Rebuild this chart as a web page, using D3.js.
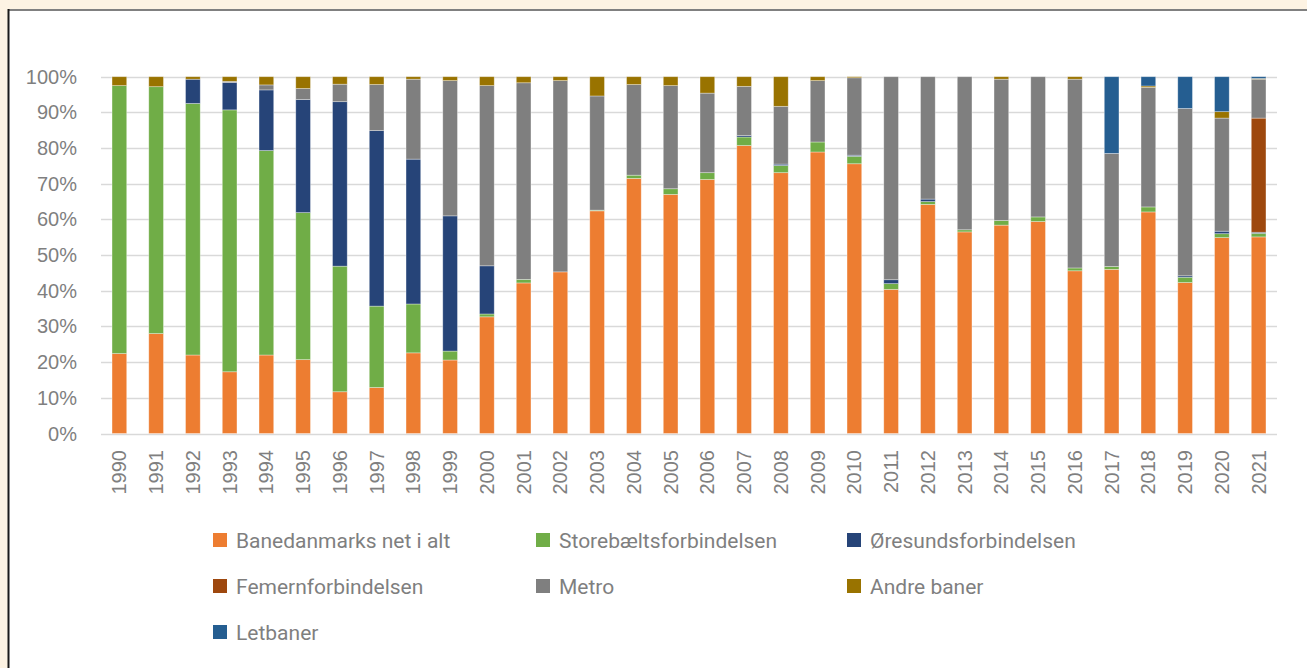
<!DOCTYPE html>
<html>
<head>
<meta charset="utf-8">
<script src="https://cdn.jsdelivr.net/npm/d3@7"></script>
<style>
  body { margin: 0; background: #fdf3e3; }
  .tick-label { font-family: "Liberation Sans", Arial, sans-serif; font-size: 20px; fill: #7f7f7f; }
  .legend-label { font-family: Roboto, "Liberation Sans", sans-serif; font-size: 21px; fill: #7f7f7f; }
</style>
</head>
<body>
<div id="chart"></div>
<script>

var years = [1990, 1991, 1992, 1993, 1994, 1995, 1996, 1997, 1998, 1999, 2000, 2001, 2002, 2003, 2004, 2005,
             2006, 2007, 2008, 2009, 2010, 2011, 2012, 2013, 2014, 2015, 2016, 2017, 2018, 2019, 2020, 2021];

var seriesNames = ["Banedanmarks net i alt", "Storebæltsforbindelsen", "Øresundsforbindelsen",
                   "Femernforbindelsen", "Metro", "Andre baner", "Letbaner"];

var seriesColors = ["#ed7d31", "#70ad47", "#264478", "#9e480e", "#7f7f7f", "#997300", "#255e91"];

// shares in percent, one value per year
var banedanmark = [22.4, 28.0, 22.0, 17.3, 22.0, 20.7, 11.7, 12.9, 22.6, 20.6, 32.7, 42.2, 45.3, 62.4, 71.5, 67.0,
                   71.2, 80.7, 73.1, 78.9, 75.6, 40.4, 64.2, 56.5, 58.4, 59.4, 45.6, 46.0, 62.1, 42.3, 54.9, 55.1];
var storebaelt  = [75.1, 69.2, 70.5, 73.4, 57.3, 41.2, 35.2, 22.8, 13.7, 2.5, 0.8, 1.0, 0, 0.2, 0.9, 1.6,
                   1.9, 2.4, 2.0, 2.8, 2.1, 1.6, 0.8, 0.6, 1.3, 1.3, 0.8, 0.8, 1.4, 1.5, 1.1, 1.0];
var oresund     = [0, 0, 6.8, 7.7, 17.0, 31.7, 46.1, 49.2, 40.6, 37.9, 13.5, 0, 0, 0, 0, 0,
                   0, 0.4, 0.4, 0, 0.3, 1.1, 0.7, 0, 0, 0, 0, 0, 0, 0.4, 0.7, 0.3];
var femern      = [0, 0, 0, 0, 0, 0, 0, 0, 0, 0, 0, 0, 0, 0, 0, 0,
                   0, 0, 0, 0, 0, 0, 0, 0, 0, 0, 0, 0, 0, 0, 0, 32.0];
var metro       = [0, 0, 0, 0.3, 1.4, 3.1, 4.9, 12.9, 22.4, 37.9, 50.5, 55.1, 53.6, 32.0, 25.4, 28.9,
                   22.3, 13.8, 16.2, 17.2, 21.7, 56.9, 34.3, 42.9, 39.6, 39.3, 52.9, 31.7, 33.5, 46.9, 31.7, 10.9];
var andre       = [2.5, 2.8, 0.7, 1.3, 2.3, 3.3, 2.1, 2.2, 0.7, 1.1, 2.5, 1.7, 1.1, 5.4, 2.2, 2.5,
                   4.6, 2.7, 8.3, 1.1, 0.3, 0, 0, 0, 0.7, 0, 0.7, 0, 0.4, 0, 1.8, 0.2];
var letbaner    = [0, 0, 0, 0, 0, 0, 0, 0, 0, 0, 0, 0, 0, 0, 0, 0,
                   0, 0, 0, 0, 0, 0, 0, 0, 0, 0, 0, 21.5, 2.6, 8.9, 9.8, 0.5];

var yTicks = [0, 10, 20, 30, 40, 50, 60, 70, 80, 90, 100];

var seriesValues = [banedanmark, storebaelt, oresund, femern, metro, andre, letbaner];

var W = 1307, H = 668;
var plot = { left: 101, right: 1277, top: 76.7, bottom: 433.5 };

var svg = d3.select("#chart")
    .append("svg")
    .attr("width", W)
    .attr("height", H);

// white panel with its border on the top and left
svg.append("rect")
    .attr("x", 8).attr("y", 10)
    .attr("width", W - 8).attr("height", H - 10)
    .attr("fill", "#ffffff");
svg.append("line")
    .attr("x1", 8).attr("x2", W).attr("y1", 10).attr("y2", 10)
    .attr("stroke", "#808080").attr("stroke-width", 2);
svg.append("line")
    .attr("x1", 8.5).attr("x2", 8.5).attr("y1", 9).attr("y2", H)
    .attr("stroke", "#1a1a1a").attr("stroke-width", 2);

var table = years.map(function (y, i) {
    var row = { year: y };
    seriesNames.forEach(function (name, s) { row[name] = seriesValues[s][i]; });
    return row;
});

var stacked = d3.stack().keys(seriesNames)(table);

var x = d3.scaleBand()
    .domain(years)
    .range([plot.left, plot.right])
    .paddingInner(0.6)
    .paddingOuter(0.3);

var y = d3.scaleLinear()
    .domain([0, 100])
    .range([plot.bottom, plot.top]);

// gridlines
svg.append("g")
    .selectAll("line")
    .data(yTicks).enter()
    .append("line")
    .attr("x1", plot.left).attr("x2", plot.right)
    .attr("y1", function (d) { return Math.round(y(d)) + 0.5; })
    .attr("y2", function (d) { return Math.round(y(d)) + 0.5; })
    .attr("stroke", "#d9d9d9")
    .attr("stroke-width", 1.3);

svg.append("g")
    .selectAll("text")
    .data(yTicks).enter()
    .append("text")
    .attr("class", "tick-label")
    .attr("x", 77)
    .attr("y", function (d) { return y(d); })
    .attr("dy", "0.35em")
    .style("text-anchor", "end")
    .text(function (d) { return d + "%"; });

// bars
svg.append("g")
    .selectAll("g")
    .data(stacked).enter()
    .append("g")
    .attr("fill", function (d, i) { return seriesColors[i]; })
    .selectAll("rect")
    .data(function (d) { return d.filter(function (p) { return p[1] - p[0] > 0; }); })
    .enter()
    .append("rect")
    .attr("x", function (d) { return x(d.data.year); })
    .attr("width", x.bandwidth())
    .attr("y", function (d) { return y(d[1]); })
    .attr("height", function (d) { return y(d[0]) - y(d[1]); })
    .attr("stroke", "#ffffff")
    .attr("stroke-opacity", 0.45)
    .attr("stroke-width", 0.75);

// year labels, rotated
svg.append("g")
    .selectAll("text")
    .data(years).enter()
    .append("text")
    .attr("class", "tick-label")
    .attr("transform", function (d) {
        return "translate(" + (x(d) + x.bandwidth() / 2) + ",450) rotate(-90)";
    })
    .attr("dy", "0.35em")
    .style("text-anchor", "end")
    .text(function (d) { return d; });

// legend, three columns
var legendCols = [213, 536, 847];
var legend = svg.append("g")
    .selectAll("g")
    .data(seriesNames).enter()
    .append("g")
    .attr("transform", function (d, i) {
        return "translate(" + legendCols[i % 3] + "," + (540 + Math.floor(i / 3) * 46) + ")";
    });

legend.append("rect")
    .attr("x", 0).attr("y", -7)
    .attr("width", 14).attr("height", 14)
    .attr("fill", function (d, i) { return seriesColors[i]; });

legend.append("text")
    .attr("class", "legend-label")
    .attr("x", 23)
    .attr("y", 8)
    .text(function (d) { return d; });

</script>
</body>
</html>
